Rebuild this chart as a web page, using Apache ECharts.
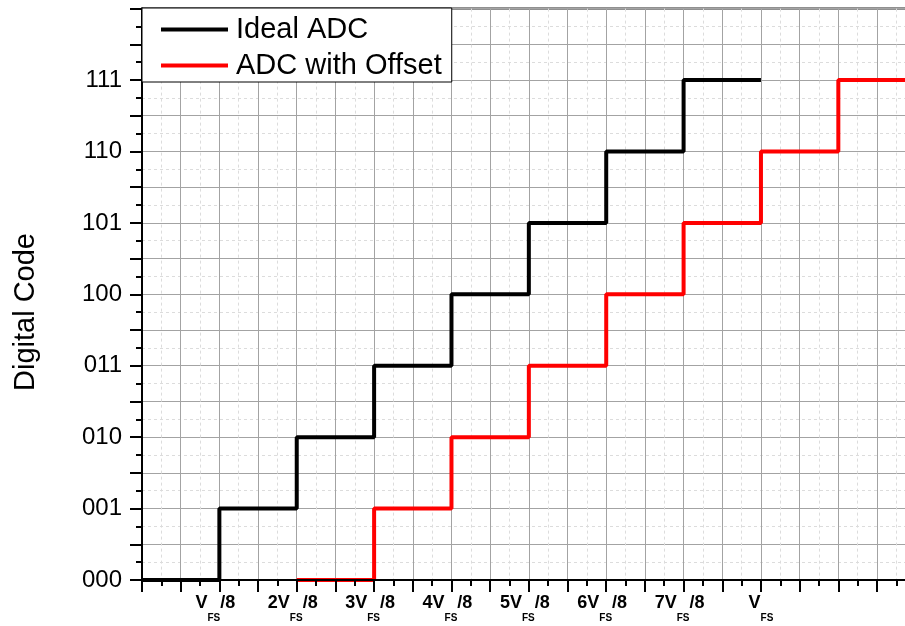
<!DOCTYPE html>
<html>
<head>
<meta charset="utf-8">
<script src="https://cdn.jsdelivr.net/npm/echarts@6/dist/echarts.min.js"></script>
<style>
html,body{margin:0;padding:0;background:#fff;}
#chart{width:905px;height:626px;}
</style>
</head>
<body>
<div id="chart"></div>
<script>
// ---- data ----
var seriesNames = ['Ideal ADC', 'ADC with Offset'];
var idealX = [0, 1, 2, 3, 4, 5, 6, 7, 8];
var idealCode = [0, 1, 2, 3, 4, 5, 6, 7, 7];
var offsetX = [2, 3, 4, 5, 6, 7, 8, 9, 10];
var offsetCode = [0, 1, 2, 3, 4, 5, 6, 7, 7];
var xTickLabels = ['', 'V_FS/8', '2V_FS/8', '3V_FS/8', '4V_FS/8', '5V_FS/8', '6V_FS/8', '7V_FS/8', 'V_FS', '', ''];
var yTickLabels = ['000', '001', '010', '011', '100', '101', '110', '111'];
var yAxisTitle = 'Digital Code';

function pairs(xs, ys) { return xs.map(function (x, i) { return [x, ys[i]]; }); }

var FONT = '"Liberation Sans", Arial, sans-serif';
var chart = echarts.init(document.getElementById('chart'), null, {renderer: 'canvas'});

function isInt(v) { return Math.abs(v - Math.round(v)) < 1e-6; }

var option = {
  animation: false,
  grid: {left: 142, top: 8.6, bottom: 46, right: -10.7, outerBoundsMode: 'none', containLabel: false,
         show: true, borderColor: '#222', borderWidth: 2, backgroundColor: 'transparent'},
  legend: {
    data: seriesNames,
    orient: 'vertical',
    left: 142, top: 8,
    icon: 'rect', itemWidth: 67, itemHeight: 4, itemGap: 7,
    padding: [7, 10, 2, 19],
    backgroundColor: '#fff', borderColor: '#000', borderWidth: 1,
    textStyle: {fontSize: 29, color: '#000', fontFamily: FONT, padding: [0, 0, 0, 3]},
    z: 10
  },
  graphic: [{
    type: 'text', x: 26, y: 312, rotation: Math.PI / 2,
    style: {text: yAxisTitle, font: '29px ' + FONT, fill: '#000', align: 'center', verticalAlign: 'middle', textAlign: 'center', textVerticalAlign: 'middle'}
  }],
  xAxis: [{
    type: 'value', min: 0, max: 10, interval: 0.5, z: 0,
    axisLine: {show: false}, axisTick: {show: false}, axisLabel: {show: false},
    splitLine: {show: true, lineStyle: {color: '#a3a3a3', width: 1}},
    minorTick: {show: false, splitNumber: 2},
    minorSplitLine: {show: true, lineStyle: {color: '#dcdcdc', width: 1, type: [3, 3]}}
  }, {
    type: 'value', min: 0, max: 10, interval: 0.5, z: 5, position: 'bottom',
    axisLine: {show: true, onZero: false, lineStyle: {color: '#000', width: 2}},
    axisTick: {show: true, length: 12, lineStyle: {color: '#000', width: 2}},
    minorTick: {show: true, splitNumber: 2, length: 6, lineStyle: {color: '#000', width: 2}},
    splitLine: {show: false},
    axisLabel: {
      show: true, margin: 14, showMinLabel: true, showMaxLabel: true, hideOverlap: false,
      formatter: function (v) {
        if (!isInt(v)) return '';
        var t = xTickLabels[Math.round(v)];
        if (!t) return '';
        var p = t.split('_FS');
        return '{n|' + p[0] + '}{s|FS}' + (p[1] ? '{t|' + p[1] + '}' : '');
      },
      rich: {
        n: {fontSize: 18, fontWeight: 'bold', fontFamily: FONT, color: '#000', lineHeight: 20, verticalAlign: 'top'},
        t: {fontSize: 18, fontWeight: 'bold', fontFamily: FONT, color: '#000', lineHeight: 20, verticalAlign: 'top', padding: [0, 8, 0, 0]},
        s: {fontSize: 10, fontWeight: 'bold', fontFamily: FONT, color: '#000', lineHeight: 10, padding: [19, 0, 0, 0], verticalAlign: 'top'}
      }
    }
  }],
  yAxis: {
    type: 'value', min: 0, max: 8, interval: 0.5,
    axisLine: {show: true, onZero: false, lineStyle: {color: '#000', width: 2}},
    axisTick: {show: true, length: 12, lineStyle: {color: '#000', width: 2}},
    minorTick: {show: true, splitNumber: 2, length: 6, lineStyle: {color: '#000', width: 2}},
    splitLine: {show: true, lineStyle: {color: '#a3a3a3', width: 1}},
    minorSplitLine: {show: true, lineStyle: {color: '#dcdcdc', width: 1, type: [3, 3]}},
    axisLabel: {
      margin: 20, fontSize: 24, color: '#000', fontFamily: FONT,
      formatter: function (v) { return isInt(v) && yTickLabels[Math.round(v)] ? yTickLabels[Math.round(v)] : ''; }
    }
  },
  series: [{
    name: seriesNames[0], type: 'line', step: 'end', xAxisIndex: 0,
    data: pairs(idealX, idealCode), symbol: 'none', color: '#000',
    lineStyle: {color: '#000', width: 4}, z: 2
  }, {
    name: seriesNames[1], type: 'line', step: 'end', xAxisIndex: 0,
    data: pairs(offsetX, offsetCode), symbol: 'none', color: '#ff0000',
    lineStyle: {color: '#ff0000', width: 4}, z: 2
  }]
};
chart.setOption(option);
</script>
</body>
</html>
